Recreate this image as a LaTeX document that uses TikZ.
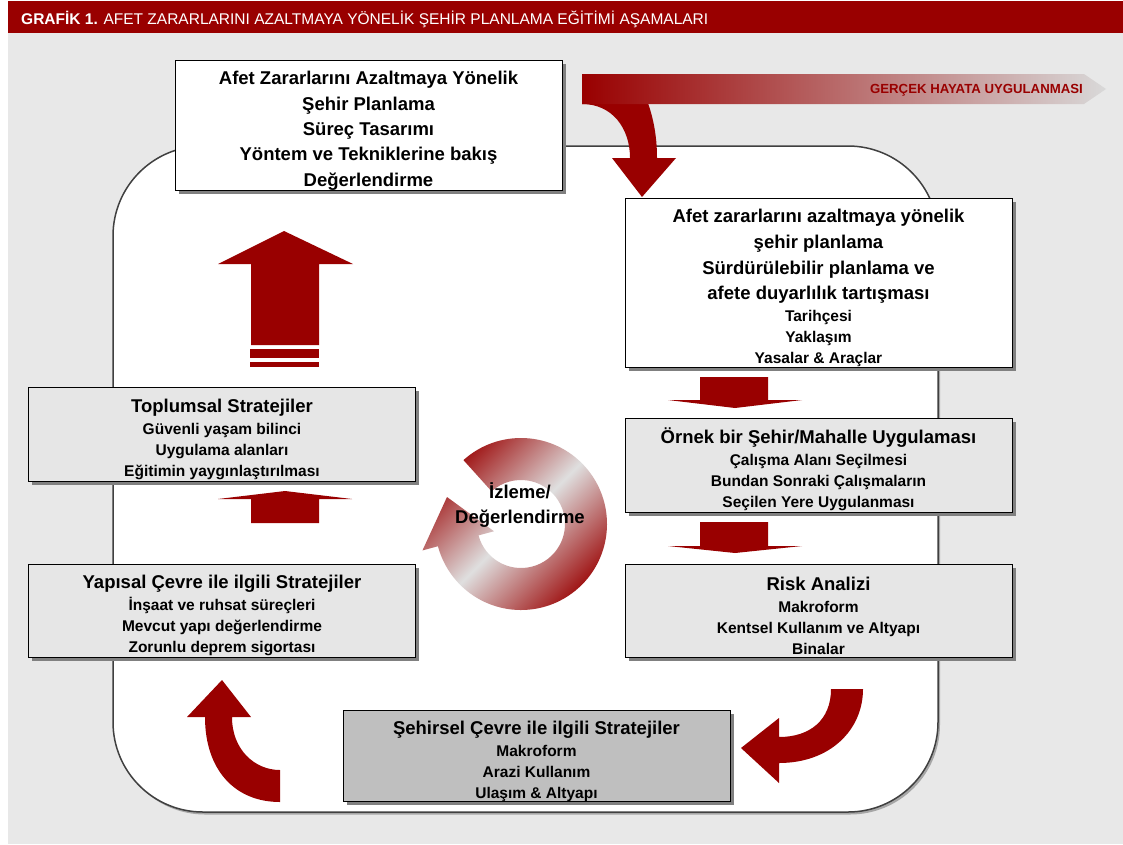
\documentclass[tikz,border=0pt]{standalone}
\usepackage{fontspec}
\setmainfont{Liberation Sans}
\usetikzlibrary{shadows}

\definecolor{cred}{HTML}{990000}
\definecolor{bgray}{HTML}{E8E8E8}
\definecolor{lgray}{HTML}{E6E6E6}
\definecolor{dgray}{HTML}{BFBFBF}

\newcommand{\bigtxt}{\fontsize{18.5}{21}\selectfont\bfseries}
\newcommand{\smtxt}{\fontsize{15.5}{21}\selectfont\bfseries}
\newcommand{\topgap}{\rule{0pt}{24pt}}

\tikzset{
  stage/.style={draw=black, line width=0.9pt, fill=white, minimum width=387pt,
    inner sep=0pt, align=center, font=\smtxt,
    drop shadow={shadow xshift=3.5pt, shadow yshift=-3.5pt, fill=black!50, opacity=1}},
  graystage/.style={stage, fill=lgray},
  blockarrow/.style={fill=cred},
}

\begin{document}
\begin{tikzpicture}[x=1pt, y=-1pt]

    \useasboundingbox (0, 0) rectangle (1123, 844);
    \fill[white] (0, 0) rectangle (1123, 844);
    \fill[bgray] (8, 33) rectangle (1123, 844);
    \fill[cred] (8, 1) rectangle (1123, 33);
    \node[anchor=base west, inner sep=0pt, text=white, font=\fontsize{15.5}{18}\selectfont] (title) at (21, 24)
      {\textbf{GRAFİK 1.} AFET ZARARLARINI AZALTMAYA YÖNELİK ŞEHİR PLANLAMA EĞİTİMİ AŞAMALARI};

    \path[fill=white, draw=black!75, line width=1.5pt, rounded corners=90pt,
      drop shadow={shadow xshift=2pt, shadow yshift=-2.5pt, fill=black!35, opacity=1}]
      (113, 146) rectangle (938, 812);

    \path[blockarrow] (582, 95) -- (645, 95) .. controls (653, 115) and (657, 135) .. (657, 158)
      -- (676, 158) -- (642, 197) -- (612, 158) -- (630, 158)
      .. controls (630, 128) and (612, 104) .. (582, 104) -- cycle;
    \shade[left color=cred, right color=gray!30]
      (582, 74) -- (1084, 74) -- (1106, 89) -- (1084, 104) -- (582, 104) -- cycle;
    \node[anchor=east, inner sep=0pt, text=cred, font=\fontsize{13.2}{15}\selectfont\bfseries] (real) at (1083, 90)
      {GERÇEK HAYATA UYGULANMASI};

    \path[blockarrow] (251, 345) -- (251, 264) -- (218, 264) -- (284, 231)
      -- (353, 264) -- (319, 264) -- (319, 345) -- cycle;
    \path[blockarrow] (250, 349) rectangle (319, 358);
    \path[blockarrow] (250, 362) rectangle (319, 367);

    \path[blockarrow] (251, 523) -- (251, 499) -- (218, 499) -- (285, 491)
      -- (352, 499) -- (319, 499) -- (319, 523) -- cycle;

    \path[blockarrow] (700, 377) -- (768, 377) -- (768, 400) -- (802, 400)
      -- (735, 408) -- (668, 400) -- (700, 400) -- cycle;
    \path[blockarrow] (700, 522) -- (768, 522) -- (768, 546) -- (802, 546)
      -- (735, 553) -- (668, 546) -- (700, 546) -- cycle;

    \path[blockarrow] (831, 689) .. controls (831, 720) and (810, 737) .. (779, 737)
      -- (779, 718) -- (741, 748) -- (779, 783) -- (779, 763)
      .. controls (830, 763) and (863, 730) .. (863, 689) -- cycle;

    \path[blockarrow] (280, 802) .. controls (235, 802) and (205, 770) .. (205, 717)
      -- (187, 717) -- (222, 680) -- (251, 717) -- (232, 717)
      .. controls (232, 750) and (255, 770) .. (280, 770) -- cycle;

    \node[stage, minimum height=125pt] (top) at (368.5, 125.5)
      {\bigtxt\topgap Afet Zararlarını Azaltmaya Yönelik\\[4.3pt]
       \bigtxt Şehir Planlama\\[4.3pt]
       \bigtxt Süreç Tasarımı\\[4.3pt]
       \bigtxt Yöntem ve Tekniklerine bakış\\[4.3pt]
       \bigtxt Değerlendirme};

    \node[stage, minimum height=166pt] (r1) at (818.5, 283)
      {\bigtxt\topgap Afet zararlarını azaltmaya yönelik\\[4.7pt]
       \bigtxt şehir planlama\\[4.7pt]
       \bigtxt Sürdürülebilir planlama ve\\[4.7pt]
       \bigtxt afete duyarlılık tartışması\\[1pt]
       \smtxt Tarihçesi\\
       \smtxt Yaklaşım\\
       \smtxt Yasalar \& Araçlar};

    \node[graystage, minimum height=94pt] (r2) at (818.5, 465)
      {\bigtxt\topgap Örnek bir Şehir/Mahalle Uygulaması\\[1pt]
       \smtxt Çalışma Alanı Seçilmesi\\
       \smtxt Bundan Sonraki Çalışmaların\\
       \smtxt Seçilen Yere Uygulanması};

    \node[graystage, minimum height=93pt] (r3) at (818.5, 611)
      {\bigtxt\topgap Risk Analizi\\[1pt]
       \smtxt Makroform\\
       \smtxt Kentsel Kullanım ve Altyapı\\
       \smtxt Binalar};

    \node[stage, fill=dgray, minimum height=89pt] (bot) at (536.5, 756)
      {\bigtxt\topgap Şehirsel Çevre ile ilgili Stratejiler\\[1pt]
       \smtxt Makroform\\
       \smtxt Arazi Kullanım\\
       \smtxt Ulaşım \& Altyapı};

    \node[graystage, minimum height=93pt] (l2) at (222, 610.5)
      {\bigtxt\topgap Yapısal Çevre ile ilgili Stratejiler\\[1pt]
       \smtxt İnşaat ve ruhsat süreçleri\\
       \smtxt Mevcut yapı değerlendirme\\
       \smtxt Zorunlu deprem sigortası};

    \node[graystage, minimum height=94pt] (l1) at (222, 434)
      {\bigtxt\topgap Toplumsal Stratejiler\\[1pt]
       \smtxt Güvenli yaşam bilinci\\
       \smtxt Uygulama alanları\\
       \smtxt Eğitimin yaygınlaştırılması};

    \shade[top color=cred, bottom color=cred, middle color=gray!25, shading angle=45]
      ([shift={(521, 524)}]228:86) arc[start angle=228, end angle=525, radius=86]
      -- ([shift={(521, 524)}]165:102) -- (447, 497) -- ([shift={(521, 524)}]165:28)
      -- ([shift={(521, 524)}]165:44) arc[start angle=525, end angle=228, radius=44] -- cycle;
    \node[align=center, inner sep=0pt, font=\bigtxt] (mon) at (520, 505)
      {\bigtxt İzleme/\\[4pt] \bigtxt Değerlendirme};

  \end{tikzpicture}
\end{document}
